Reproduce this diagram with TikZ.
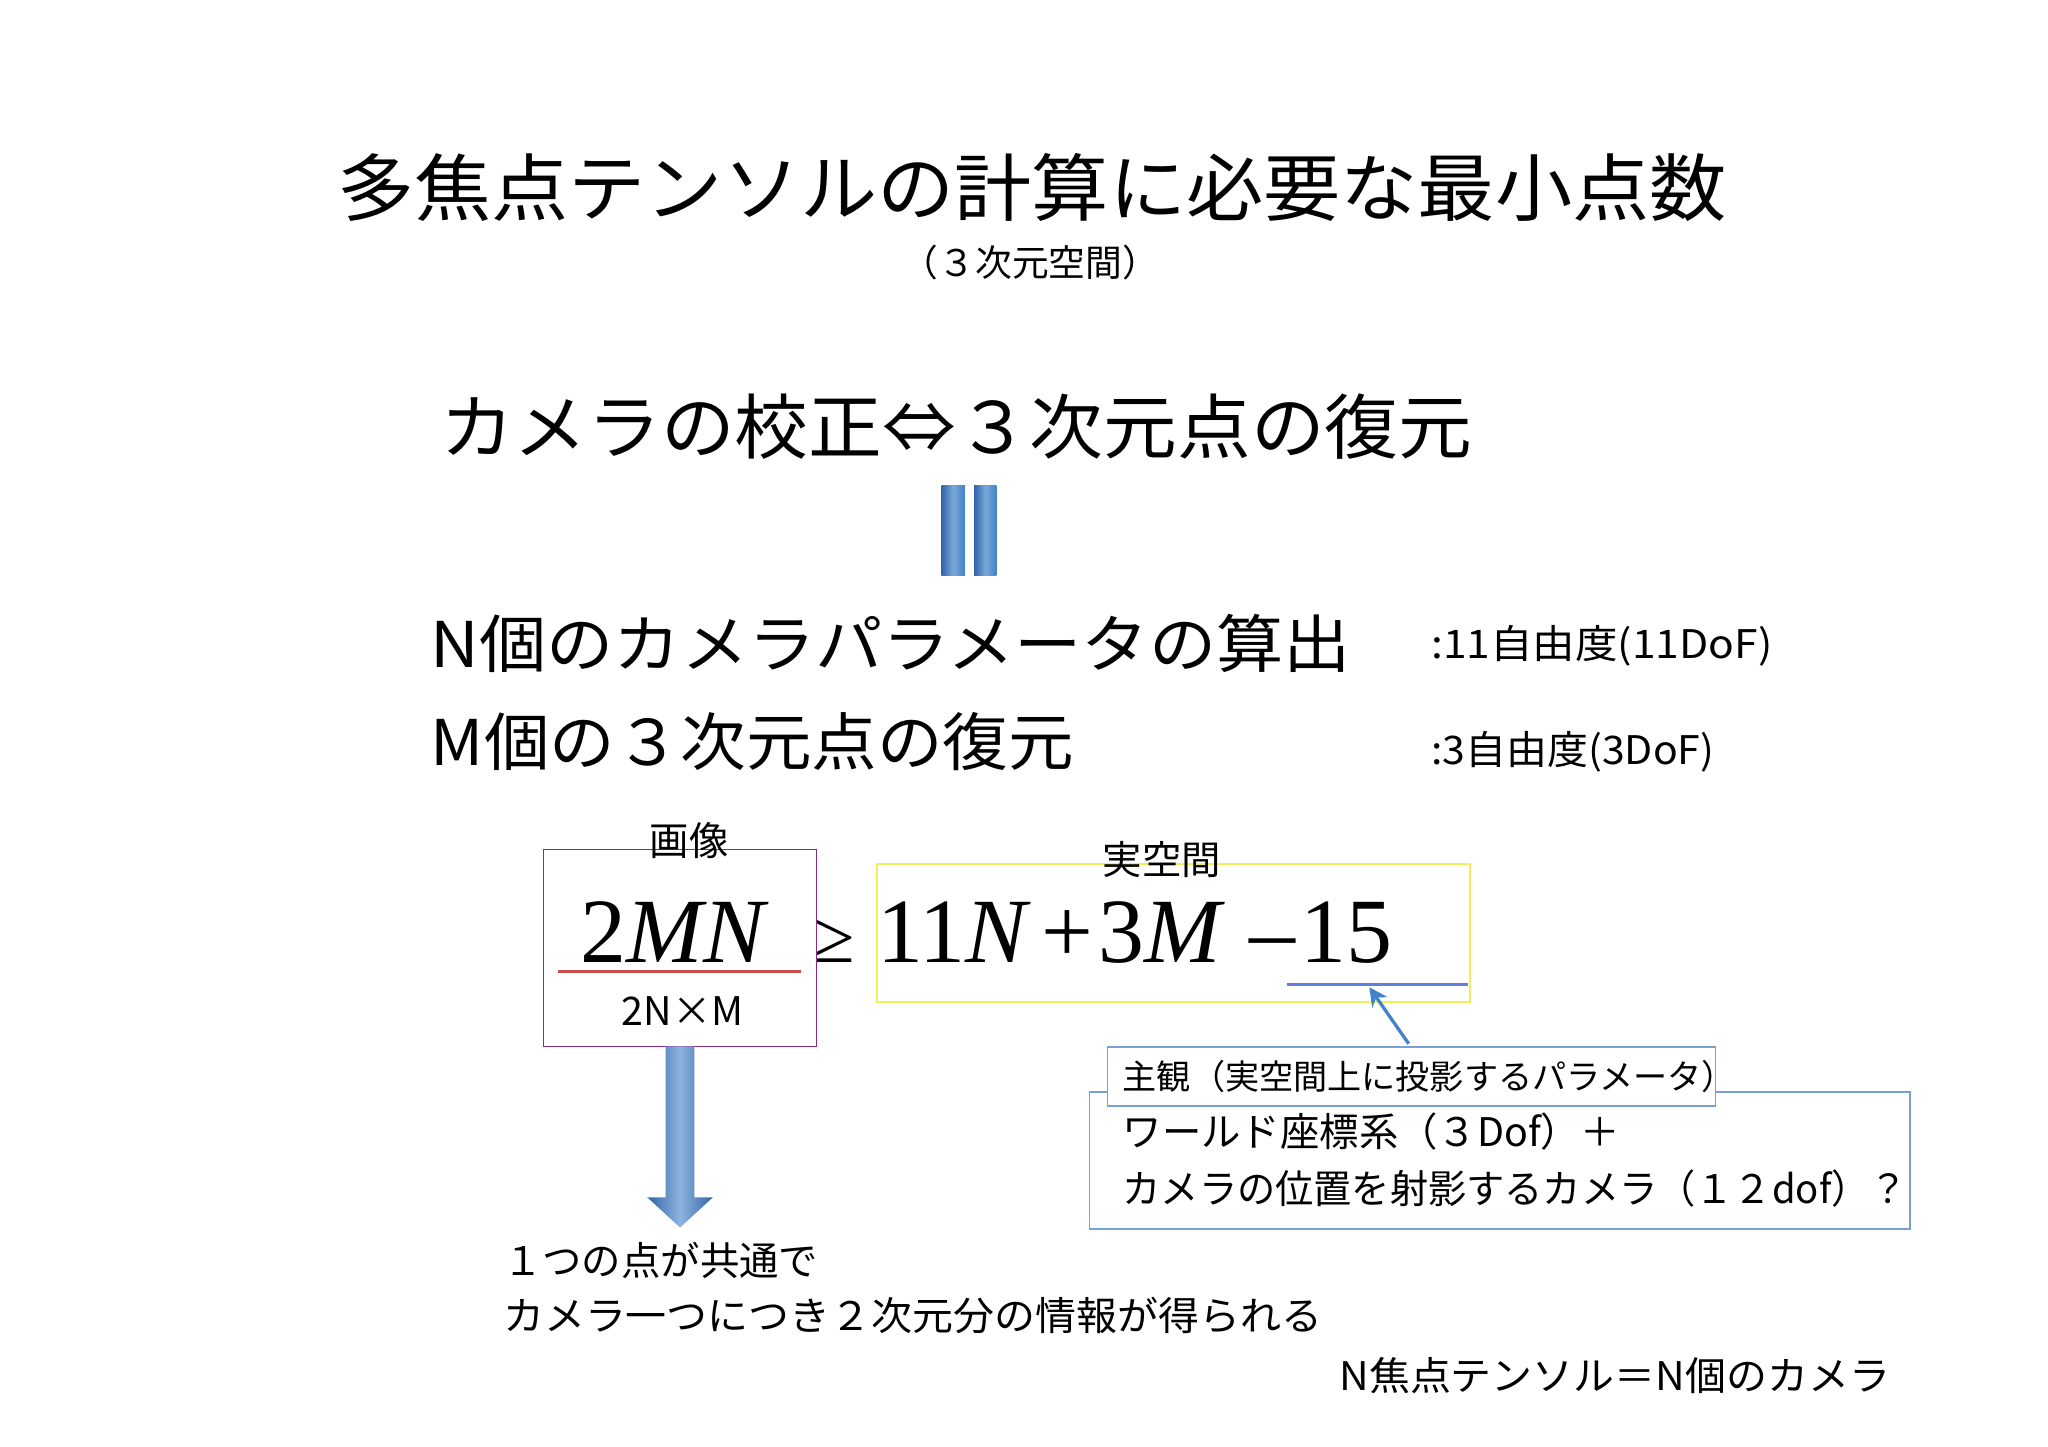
\documentclass[tikz,border=0pt]{standalone}
\usepackage{fontspec}
\setmainfont{Noto Sans CJK JP}
\newfontfamily\mathser{Liberation Serif}
\usetikzlibrary{arrows.meta}
\definecolor{bluearr}{RGB}{66,130,200}
\definecolor{bluedark}{RGB}{50,100,170}
\definecolor{boxblue}{RGB}{120,160,210}
\definecolor{purp}{RGB}{140,40,140}
\definecolor{yel}{RGB}{240,240,90}
\definecolor{redl}{RGB}{200,80,80}
\tikzset{
 fs/.style={font=\fontsize{#1}{#1}\selectfont, inner sep=0pt},
 eqf/.style={font=\mathser\fontsize{70}{70}\selectfont, inner sep=0pt, anchor=base west},
 eqbar/.style={left color=bluedark, right color=bluearr, middle color=bluearr!70!white, draw=none},
}
\begin{document}
\begin{tikzpicture}[x=1pt,y=-1pt]
\useasboundingbox (0,0) rectangle (1560,1102);
\fill[white] (0,0) rectangle (1560,1102);
\node[fs=56,xscale=1.05] (title) at (786,143) {多焦点テンソルの計算に必要な最小点数};
\node[fs=28] (sub) at (785,200) {（３次元空間）};
\node[fs=54,anchor=west,xscale=1.04] (l1) at (335,325) {カメラの校正⇔３次元点の復元};
\fill[eqbar] (717,370) rectangle (735,438);
\fill[eqbar] (742,370) rectangle (759,438);
\node[fs=48,anchor=west,xscale=1.067] (l2) at (328,490) {N個のカメラパラメータの算出};
\node[fs=48,anchor=west,xscale=1.04] (l3) at (328,565) {M個の３次元点の復元};
\node[fs=30,anchor=west,xscale=1.08] (d1) at (1090,492) {:11自由度(11DoF)};
\node[fs=30,anchor=west,xscale=1.04] (d2) at (1090,573) {:3自由度(3DoF)};
\draw[purp,line width=1.2] (414,647) rectangle (622,797);
\draw[yel,line width=1.5] (668,658) rectangle (1120,763);
\node[fs=30] (img) at (525,640) {画像};
\node[fs=30] (real) at (885,655) {実空間};
\node[eqf] (e1) at (442,733) {2\textit{MN}};
\node[eqf,font=\mathser\fontsize{56}{56}\selectfont] (e2) at (620,733) {≥};
\node[eqf] (e3) at (668,733) {11\textit{N}\hspace{8pt}+\hspace{4pt}3\textit{M}\hspace{18pt}–\hspace{4pt}15};
\draw[redl,line width=2.5] (425,740) -- (610,740);
\node[fs=30] (nm) at (520,770) {2N×M};
\coordinate (u1) at (980,750); \coordinate (u2) at (1118,750);
\draw[boxblue!80!blue,line width=2.5] (u1) -- (u2);
\draw[boxblue,line width=1.2] (830,832) rectangle (1455,936);
\node[draw=boxblue,line width=1,fill=white,minimum width=463,minimum height=45,anchor=north west,inner sep=0pt] (lab) at (843,797) {};
\node[fs=26,anchor=west] at (855,820) {主観（実空間上に投影するパラメータ）};
\coordinate (ah) at (1043,752); \coordinate (at) at (1073,795);
\draw[bluearr,line width=2.5,-{Stealth[length=14,width=14]}] (at) -- (ah);
\node[fs=30,anchor=west] (w1) at (855,862) {ワールド座標系（３Dof）＋};
\node[fs=30,anchor=west,xscale=0.97] (w2) at (855,905) {カメラの位置を射影するカメラ（１２dof）？};
\shade[left color=bluedark,right color=bluedark,middle color=bluearr!60!white]
 (507,797) -- (529,797) -- (529,912) -- (543,912) -- (518,935) -- (493,912) -- (507,912) -- cycle;
\node[fs=30,anchor=west] (t1) at (383,960) {１つの点が共通で};
\node[fs=30,anchor=west,xscale=1.04] (t2) at (383,1002) {カメラ一つにつき２次元分の情報が得られる};
\node[fs=30,anchor=east,xscale=1.04] (t3) at (1440,1048) {N焦点テンソル＝N個のカメラ};
\end{tikzpicture}
\end{document}
